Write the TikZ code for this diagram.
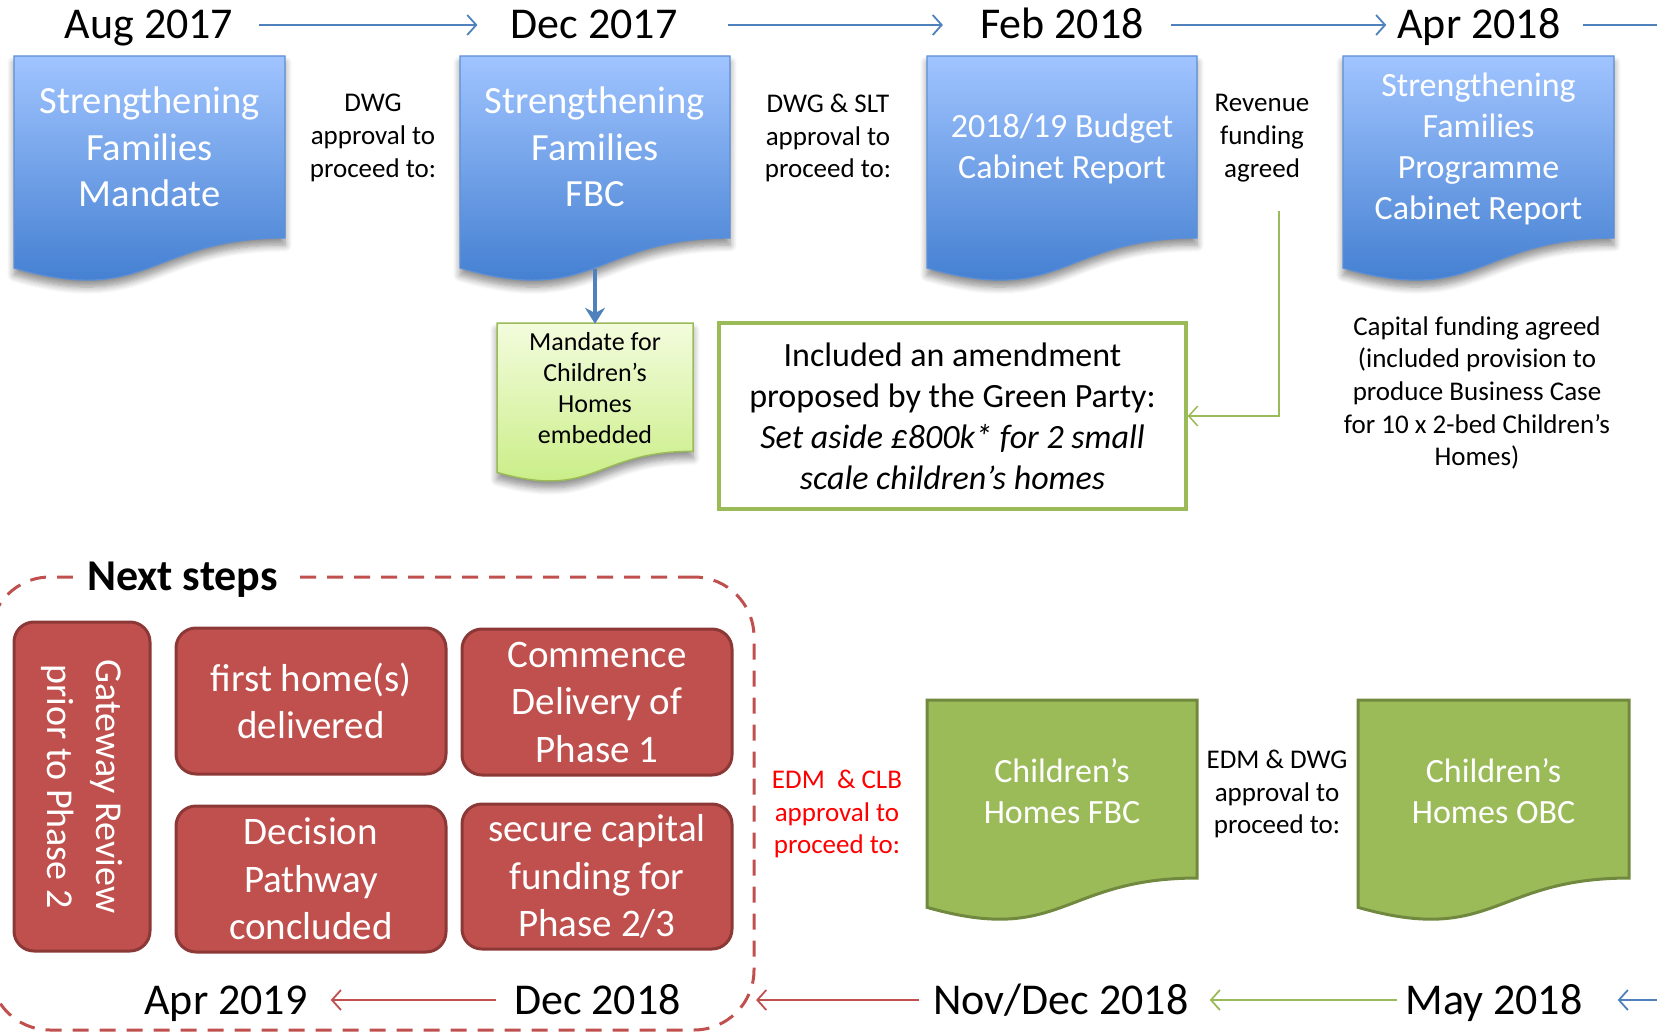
\documentclass[tikz,border=0pt]{standalone}
\usepackage{fontspec}
\setmainfont{Carlito}
\usetikzlibrary{arrows.meta,shadows.blur}
\definecolor{docblueT}{HTML}{A0C4FF}
\definecolor{docblueB}{HTML}{3A78CC}
\definecolor{docblueL}{HTML}{5C8FD6}
\definecolor{arrblue}{HTML}{4F81BD}
\definecolor{olive}{HTML}{9BBB59}
\definecolor{oliveD}{HTML}{71893F}
\definecolor{brick}{HTML}{C0504D}
\definecolor{brickD}{HTML}{8C3836}
\definecolor{paleT}{HTML}{F3FCDD}
\definecolor{paleB}{HTML}{C6EC7E}
% document (wavy bottom) outline: style, x, y, w, h
\newcommand{\docpath}[5]{%
  \path[#1] (#2,#3) -- ({#2+#4},#3) -- ({#2+#4},{#3+0.802*#5})
    .. controls ({#2+0.5*#4},{#3+0.802*#5}) and ({#2+0.5*#4},{#3+1.1075*#5}) .. (#2,{#3+0.934*#5}) -- cycle;}
\begin{document}
\begin{tikzpicture}[x=1pt,y=-1pt,
  docshadow/.style={blur shadow={shadow xshift=0pt, shadow yshift=-7pt, shadow blur steps=8, shadow blur radius=7pt, shadow opacity=45}},
  bluedoc/.style={draw=docblueL, line width=1.2pt, top color=docblueT, bottom color=docblueB, docshadow},
  paledoc/.style={draw=olive, line width=1.5pt, top color=paleT, bottom color=paleB, docshadow},
  greendoc/.style={draw=oliveD, line width=3pt, fill=olive},
  doctext/.style={text=white, align=center, inner sep=0pt, font=\fontsize{38.5}{46.5}\selectfont},
  doctextS/.style={text=white, align=center, inner sep=0pt, font=\fontsize{34}{41}\selectfont},
  lbl/.style={align=center, inner sep=0pt, font=\fontsize{27}{32.7}\selectfont},
  date/.style={inner sep=0pt, text height=36pt, text depth=8pt, font=\fontsize{44}{50}\selectfont},
  redbox/.style={draw=brickD, line width=3pt, fill=brick, rounded corners=20pt, text=white, align=center, inner sep=0pt, font=\fontsize{39}{47.5}\selectfont},
  toparrow/.style={draw=arrblue, line width=1.8pt, -{Straight Barb[length=9pt,width=20pt]}},
  redarrow/.style={draw=brick, line width=1.8pt, -{Straight Barb[length=9pt,width=20pt]}},
  grnarrow/.style={draw=olive, line width=1.8pt, -{Straight Barb[length=9pt,width=20pt]}},
  downarrow/.style={draw=arrblue, line width=4.5pt, -{Stealth[length=16pt,width=20pt]}},
  frame/.style={draw=brick, line width=3pt, dash pattern=on 16pt off 11pt, rounded corners=60pt}
]
\useasboundingbox (0,0) rectangle (1657,1035);

% ---------- top timeline ----------
\node[date] (aug) at (149,25) {Aug 2017};
\node[date] (dec) at (594,25) {Dec 2017};
\node[date] (feb) at (1062,25) {Feb 2018};
\node[date] (apr) at (1479,25) {Apr 2018};
\coordinate (topR) at (1700,25);
\draw[toparrow, shorten <=26pt, shorten >=33pt] (aug.east) -- (dec.west);
\draw[toparrow, shorten <=50pt, shorten >=37pt] (dec.east) -- (feb.west);
\draw[toparrow, shorten <=27pt, shorten >=11pt] (feb.east) -- (apr.west);
\draw[toparrow, shorten <=22pt] (apr.east) -- (topR);

% ---------- blue documents ----------
\docpath{bluedoc}{14}{56}{271}{227}
\docpath{bluedoc}{460}{56}{270}{227}
\docpath{bluedoc}{927}{56}{270}{227}
\docpath{bluedoc}{1343}{56}{271}{227}
\node[doctext, minimum width=271pt, minimum height=182pt] (d1) at (149.5,147) {Strengthening\\Families\\Mandate};
\node[doctext, minimum width=270pt, minimum height=182pt] (d2) at (595,147) {Strengthening\\Families\\FBC};
\node[doctextS, minimum width=270pt, minimum height=182pt] (d3) at (1062,149) {2018/19 Budget\\Cabinet Report};
\node[doctextS, minimum width=271pt, minimum height=182pt] (d4) at (1478.5,149) {Strengthening\\Families\\Programme\\Cabinet Report};

\node[lbl] (l1) at (373,138) {DWG\\approval to\\proceed to:};
\node[lbl] (l2) at (828,138) {DWG \& SLT\\approval to\\proceed to:};
\node[lbl] (l3) at (1262,138) {Revenue\\funding\\agreed};

% ---------- mandate for children's homes ----------
\docpath{paledoc}{497}{323}{196}{160}
\node[align=center, inner sep=0pt, minimum width=196pt, minimum height=128pt, font=\fontsize{26}{31}\selectfont] (mand) at (595,388) {Mandate for\\Children’s\\Homes\\embedded};
\draw[downarrow, shorten <=31pt] (d2.south) -- (mand.north);

% ---------- amendment box ----------
\node[draw=olive, line width=3.5pt, minimum width=467pt, minimum height=186pt, align=center, inner sep=0pt, font=\fontsize{34}{41}\selectfont] (amend) at (952.5,416)
  {Included an amendment\\proposed by the Green Party:\\\textit{Set aside £800k* for 2 small}\\\textit{scale children’s homes}};
\coordinate (revc) at (1279,211);
\draw[grnarrow, line width=1.5pt] (revc) |- (amend.east);

\node[lbl] (cap) at (1477,393) {Capital funding agreed\\(included provision to\\produce Business Case\\for 10 x 2-bed Children’s\\Homes)};

% ---------- next steps ----------
\node[frame, minimum width=764pt, minimum height=453pt] (ns) at (372,803.5) {};
\node[fill=white, inner xsep=14pt, inner ysep=2pt, anchor=base, font=\bfseries\fontsize{44}{50}\selectfont] (nst) at (182.5,590) {Next steps};

\node[redbox, rotate=-90, minimum width=329pt, minimum height=136pt, font=\fontsize{38}{49}\selectfont] (gw) at (82,786.5) {Gateway Review\\prior to Phase 2};
\node[redbox, minimum width=270pt, minimum height=146pt] (fh) at (311,701) {first home(s)\\delivered};
\node[redbox, minimum width=270pt, minimum height=146pt] (cd) at (597,702) {Commence\\Delivery of\\Phase 1};
\node[redbox, minimum width=270pt, minimum height=146pt] (dp) at (311,879) {Decision\\Pathway\\concluded};
\node[redbox, minimum width=270pt, minimum height=145pt] (sc) at (597,876.5) {secure capital\\funding for\\Phase 2/3};

% ---------- green documents ----------
\docpath{greendoc}{927}{700}{270}{222}
\docpath{greendoc}{1358}{700}{271}{222}
\node[doctextS, minimum width=270pt, minimum height=178pt] (gf) at (1062,791) {Children’s\\Homes FBC};
\node[doctextS, minimum width=271pt, minimum height=178pt] (go) at (1493.5,791) {Children’s\\Homes OBC};

\node[lbl, text=red] (l4) at (837,814) {EDM~~\& CLB\\approval to\\proceed to:};
\node[lbl] (l5) at (1277,794) {EDM \& DWG\\approval to\\proceed to:};

% ---------- bottom timeline ----------
\node[date] (apr19) at (226,1000) {Apr 2019};
\node[date] (dec18) at (597.5,1000) {Dec 2018};
\node[date] (nov18) at (1061,1000) {Nov/Dec 2018};
\node[date] (may18) at (1494,1000) {May 2018};
\coordinate (botR) at (1690,1000);
\draw[redarrow, shorten <=18pt, shorten >=23pt] (dec18.west) -- (apr19.east);
\draw[redarrow, shorten <=14pt, shorten >=75pt] (nov18.west) -- (dec18.east);
\draw[grnarrow, shorten <=8pt, shorten >=21pt] (may18.west) -- (nov18.east);
\draw[toparrow, shorten >=35pt] (botR) -- (may18.east);
\end{tikzpicture}
\end{document}
